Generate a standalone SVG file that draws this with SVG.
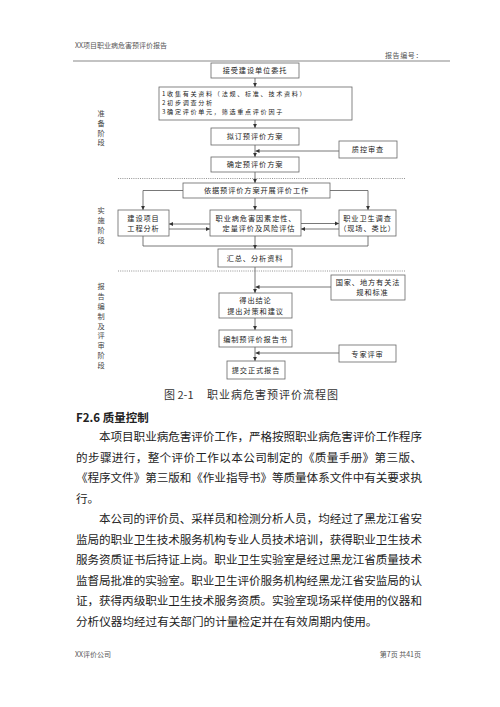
<svg xmlns="http://www.w3.org/2000/svg" width="500" height="707" viewBox="0 0 500 707">
<style>
text{font-family:"Noto Sans CJK SC","Noto Sans",sans-serif;fill:#333}
.hd{font-size:7px;fill:#555}
.bx{fill:#fff;stroke:#666;stroke-width:0.8}
.bt{font-size:7.2px;text-anchor:middle;letter-spacing:0.9px;fill:#222}
.lt{font-size:6.1px;letter-spacing:1.7px;fill:#222}
.sd{font-size:7.2px;text-anchor:middle;fill:#444}
.ln{fill:none;stroke:#555;stroke-width:0.8}
.dot{stroke:#777;stroke-width:0.8;stroke-dasharray:1 1.2}
.body{font-size:11.6px;fill:#222}
.cap{font-size:11px;fill:#333}
</style>
<defs>
<marker id="ah" markerWidth="5" markerHeight="5" refX="4" refY="2.5" orient="auto" markerUnits="userSpaceOnUse">
<path d="M0,0.6 L4,2.5 L0,4.4 Z" fill="#333"/>
</marker>
</defs>
<g id="header">
<text class="hd" x="75" y="47.5">XX项目职业病危害预评价报告</text>
<text class="hd" x="385" y="57.5" style="letter-spacing:0.6px">报告编号：</text>
<line x1="73" y1="61" x2="450" y2="61" stroke="#888" stroke-width="1.2"/>
</g>
<g id="stage-labels">
<text class="sd" x="101" y="116">准</text>
<text class="sd" x="101" y="126">备</text>
<text class="sd" x="101" y="135.5">阶</text>
<text class="sd" x="101" y="145">段</text>
<text class="sd" x="101" y="212.5">实</text>
<text class="sd" x="101" y="222.5">施</text>
<text class="sd" x="101" y="232.5">阶</text>
<text class="sd" x="101" y="242.5">段</text>
<text class="sd" x="101" y="288.5">报</text>
<text class="sd" x="101" y="298.5">告</text>
<text class="sd" x="101" y="308.5">编</text>
<text class="sd" x="101" y="318.5">制</text>
<text class="sd" x="101" y="328.5">及</text>
<text class="sd" x="101" y="338">评</text>
<text class="sd" x="101" y="348">审</text>
<text class="sd" x="101" y="358">阶</text>
<text class="sd" x="101" y="368">段</text>
</g>
<g id="separators">
<line class="dot" x1="118" y1="178.5" x2="405" y2="178.5"/>
<line class="dot" x1="118" y1="271" x2="405" y2="271"/>
</g>
<g id="connectors">
<path class="ln" d="M255,78 V87" marker-end="url(#ah)"/>
<path class="ln" d="M255,120 V128" marker-end="url(#ah)"/>
<path class="ln" d="M255,145 V157" marker-end="url(#ah)"/>
<path class="ln" d="M339,151 H255.5" marker-end="url(#ah)"/>
<path class="ln" d="M255,172 V183" marker-end="url(#ah)"/>
<path class="ln" d="M183,190.5 H143 V210" marker-end="url(#ah)"/>
<path class="ln" d="M330,190.5 H368 V210" marker-end="url(#ah)"/>
<path class="ln" d="M255,198 V210" marker-end="url(#ah)"/>
<path class="ln" d="M210,224 H169" marker-end="url(#ah)"/>
<path class="ln" d="M169,229 H210" marker-end="url(#ah)"/>
<path class="ln" d="M301,223.5 H339" marker-end="url(#ah)"/>
<path class="ln" d="M339,229 H301" marker-end="url(#ah)"/>
<path class="ln" d="M143,236 V246 H368 V236"/>
<path class="ln" d="M255,236 V249" marker-end="url(#ah)"/>
<path class="ln" d="M255,267 V293" marker-end="url(#ah)"/>
<path class="ln" d="M331,287 H255.5" marker-end="url(#ah)"/>
<path class="ln" d="M255,318 V330" marker-end="url(#ah)"/>
<path class="ln" d="M255,347 V361" marker-end="url(#ah)"/>
<path class="ln" d="M339,353 H255.5" marker-end="url(#ah)"/>
</g>
<g id="n-entrust"><rect class="bx" x="211" y="63" width="88" height="15"/><text class="bt" x="255" y="73.2">接受建设单位委托</text></g>
<g id="n-collect"><rect class="bx" x="159" y="87" width="193" height="33"/>
<text class="lt" x="162" y="96">1收集有关资料（法规、标准、技术资料）</text>
<text class="lt" x="162" y="105.2">2初步调查分析</text>
<text class="lt" x="162" y="114.4">3确定评价单元，筛选重点评价因子</text></g>
<g id="n-draft"><rect class="bx" x="211" y="128" width="88" height="17"/><text class="bt" x="255" y="139">拟订预评价方案</text></g>
<g id="n-qc"><rect class="bx" x="339" y="141" width="58" height="17"/><text class="bt" x="368" y="152">质控审查</text></g>
<g id="n-confirm"><rect class="bx" x="211" y="157" width="88" height="15"/><text class="bt" x="255" y="167.2">确定预评价方案</text></g>
<g id="n-work"><rect class="bx" x="183" y="183" width="147" height="15"/><text class="bt" x="256.5" y="193.2">依据预评价方案开展评价工作</text></g>
<g id="n-project"><rect class="bx" x="118" y="210" width="51" height="26"/><text class="bt" x="143.5" y="220.5">建设项目</text><text class="bt" x="143.5" y="231">工程分析</text></g>
<g id="n-hazard"><rect class="bx" x="210" y="210" width="91" height="26"/><text class="bt" x="256" y="220.5">职业病危害因素定性、</text><text class="bt" x="259" y="231">定量评价及风险评估</text></g>
<g id="n-survey"><rect class="bx" x="339" y="210" width="57" height="26"/><text class="bt" x="367.5" y="220.5">职业卫生调查</text><text class="bt" x="367.5" y="231">（现场、类比）</text></g>
<g id="n-summary"><rect class="bx" x="218" y="249" width="74" height="18"/><text class="bt" x="255" y="260.5">汇总、分析资料</text></g>
<g id="n-laws"><rect class="bx" x="331" y="275" width="74" height="25"/><text class="bt" x="368" y="284.5">国家、地方有关法</text><text class="bt" x="372.5" y="295">规和标准</text></g>
<g id="n-conclude"><rect class="bx" x="219" y="293" width="73" height="25"/><text class="bt" x="255.5" y="303">得出结论</text><text class="bt" x="255.5" y="313.5">提出对策和建议</text></g>
<g id="n-write"><rect class="bx" x="219" y="330" width="73" height="17"/><text class="bt" x="255.5" y="341.5">编制预评价报告书</text></g>
<g id="n-expert"><rect class="bx" x="339" y="345" width="57" height="17"/><text class="bt" x="367.5" y="356.5">专家评审</text></g>
<g id="n-submit"><rect class="bx" x="227" y="361" width="58" height="18"/><text class="bt" x="256" y="373">提交正式报告</text></g>
<g id="caption">
<text class="cap" x="164" y="399">图 2-1</text>
<text class="cap" x="207" y="399" textLength="131" lengthAdjust="spacing">职业病危害预评价流程图</text>
</g>
<g id="body">
<text x="76" y="421.5" style="font-size:11.5px;font-weight:bold;fill:#222">F2.6 质量控制</text>
<text class="body" x="99" y="441" textLength="323" lengthAdjust="spacing">本项目职业病危害评价工作，严格按照职业病危害评价工作程序</text>
<text class="body" x="76" y="461.5" textLength="346" lengthAdjust="spacing">的步骤进行，整个评价工作以本公司制定的《质量手册》第三版、</text>
<text class="body" x="76" y="482" textLength="346" lengthAdjust="spacing">《程序文件》第三版和《作业指导书》等质量体系文件中有关要求执</text>
<text class="body" x="76" y="502.5">行。</text>
<text class="body" x="99" y="523" textLength="323" lengthAdjust="spacing">本公司的评价员、采样员和检测分析人员，均经过了黑龙江省安</text>
<text class="body" x="76" y="543.5" textLength="346" lengthAdjust="spacing">监局的职业卫生技术服务机构专业人员技术培训，获得职业卫生技术</text>
<text class="body" x="76" y="564" textLength="346" lengthAdjust="spacing">服务资质证书后持证上岗。职业卫生实验室是经过黑龙江省质量技术</text>
<text class="body" x="76" y="584.5" textLength="346" lengthAdjust="spacing">监督局批准的实验室。职业卫生评价服务机构经黑龙江省安监局的认</text>
<text class="body" x="76" y="605" textLength="346" lengthAdjust="spacing">证，获得丙级职业卫生技术服务资质。实验室现场采样使用的仪器和</text>
<text class="body" x="76" y="625.5">分析仪器均经过有关部门的计量检定并在有效周期内使用。</text>
</g>
<g id="footer">
<text class="hd" x="75" y="657">XX评价公司</text>
<text class="hd" x="421" y="657" text-anchor="end">第7页 共41页</text>
</g>
</svg>
